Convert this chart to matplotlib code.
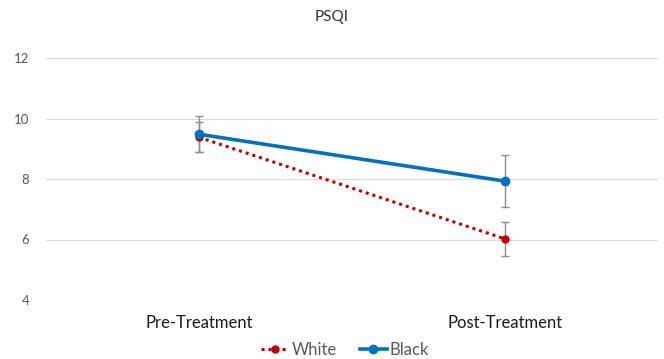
import matplotlib
matplotlib.use('Agg')
import matplotlib.pyplot as plt

# data
categories = ['Pre-Treatment', 'Post-Treatment']
white = [9.38, 6.02]
white_err = [0.5, 0.57]
black = [9.48, 7.93]
black_err = [0.6, 0.87]

plt.rcParams['font.family'] = ['Lato', 'DejaVu Sans']

fig = plt.figure(figsize=(6.64, 3.59), dpi=100)
ax = fig.add_axes([46 / 664, 1 - 300 / 359, 612 / 664, 242 / 359])

x = [1, 2]
ax.errorbar(x, white, yerr=white_err, fmt='none', ecolor='#8c8c8c', elinewidth=1, capsize=3, capthick=1, zorder=2)
ax.errorbar(x, black, yerr=black_err, fmt='none', ecolor='#8c8c8c', elinewidth=1, capsize=3, capthick=1, zorder=2)
ax.plot(x, white, color='#C00000', linestyle=(0, (1, 1.3)), linewidth=2.2, marker='o', markersize=5, label='White', zorder=3)
ax.plot(x, black, color='#0070C0', linewidth=2.6, marker='o', markersize=6, label='Black', zorder=4)

ax.set_xlim(0.5, 2.5)
ax.set_ylim(4, 12)
ax.set_yticks([4, 6, 8, 10, 12])
ax.set_xticks(x)
ax.set_xticklabels(categories, fontsize=12, color='#1a1a1a')
ax.tick_params(axis='y', labelsize=9.5, colors='#595959', length=0, pad=12)
ax.tick_params(axis='x', length=0, pad=11)
ax.grid(axis='y', color='#d9d9d9', linewidth=0.8)
ax.set_axisbelow(True)
for s in ax.spines.values():
    s.set_visible(False)

fig.text(0.5, 1 - 17 / 359, 'PSQI', ha='center', va='center', fontsize=11, color='#333333')

leg = fig.legend(loc='center', bbox_to_anchor=(0.52, 1 - 350 / 359), ncol=2, frameon=False,
                 fontsize=12, handlelength=1.6, handletextpad=0.2, columnspacing=1.4)
for t in leg.get_texts():
    t.set_color('#595959')

fig.savefig('out.png', dpi=100)
